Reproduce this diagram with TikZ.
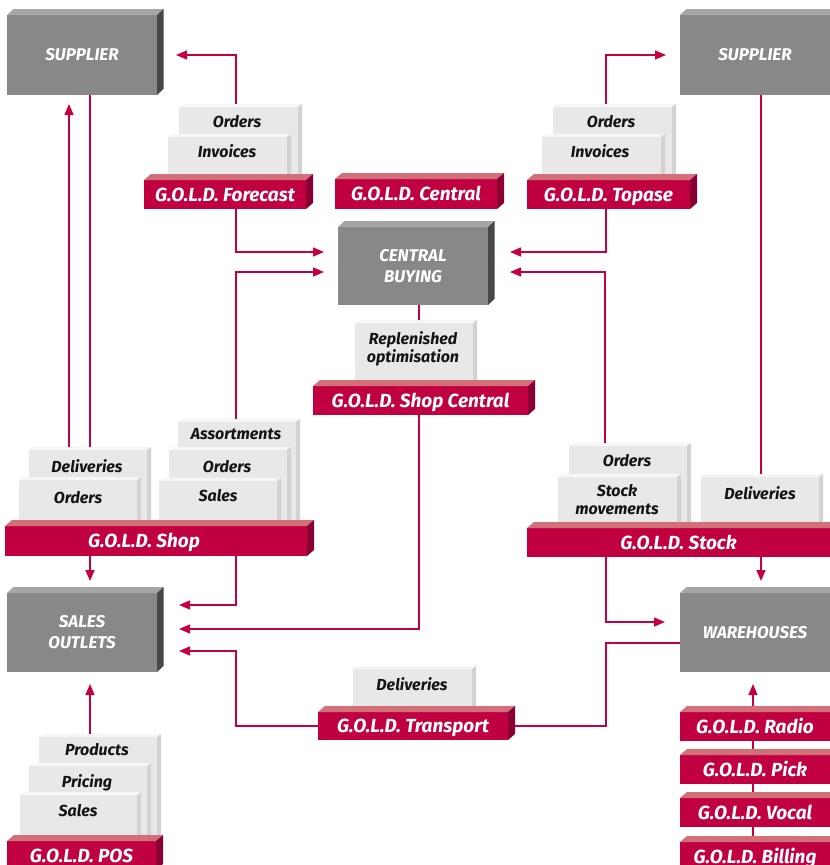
\documentclass[tikz,border=0pt]{standalone}
\usepackage{fontspec}
\setmainfont{Fira Sans}
\usetikzlibrary{arrows.meta}
\definecolor{crim}{RGB}{192,0,64}
\definecolor{crimtop}{RGB}{210,112,122}
\definecolor{crimside}{RGB}{139,0,52}
\definecolor{gfront}{RGB}{136,136,136}
\definecolor{gtop}{RGB}{166,166,166}
\definecolor{gside}{RGB}{72,72,72}
\definecolor{cfront}{RGB}{232,232,232}
\definecolor{cside}{RGB}{210,210,210}
\definecolor{ctop}{RGB}{246,246,246}
\definecolor{linec}{RGB}{196,0,66}
\pgfdeclarelayer{bg}
\pgfsetlayers{bg,main}
\newcommand\extrude[5]{%
  \fill[#4] (#1.north west) -- ++(#2,#3) -- ([shift={(#2,#3)}]#1.north east) -- (#1.north east) -- cycle;
  \fill[#5] (#1.north east) -- ++(#2,#3) -- ([shift={(#2,#3)}]#1.south east) -- (#1.south east) -- cycle;}
\begin{document}
\begin{tikzpicture}[x=1pt,y=-1pt,
  every node/.style={outer sep=0pt, inner sep=0pt},
  gbox/.style={fill=gfront, minimum width=150pt, minimum height=80pt, text=white, align=center,
    font=\fontsize{17}{21}\selectfont\bfseries\itshape},
  bar/.style={fill=crim, minimum height=29pt, text=white, text height=17.1pt, text depth=4pt,
    font=\fontsize{19}{22}\selectfont\bfseries\itshape},
  card/.style={fill=cfront, anchor=north west},
  ctext/.style={text=black!92, text height=15.2pt, text depth=4pt,
    font=\fontsize{16}{18.5}\selectfont\bfseries\itshape},
  ctext2/.style={text=black!92, align=center, font=\fontsize{16}{18.5}\selectfont\bfseries\itshape},
  conn/.style={draw=linec, line width=1.4pt},
  arr/.style={conn, -{Triangle[length=11pt,width=9pt]}}]
\useasboundingbox (0,0) rectangle (830,865);

% grey boxes
\node[gbox] (supL) at (82,55) {SUPPLIER};
\extrude{supL}{6.5}{-6}{gtop}{gside}
\node[gbox] (supR) at (755,55) {SUPPLIER};
\extrude{supR}{6.5}{-6}{gtop}{gside}
\node[gbox, minimum height=78pt] (cb) at (413,266) {CENTRAL\\BUYING};
\extrude{cb}{6.5}{-6}{gtop}{gside}
\node[gbox, minimum height=79pt] (so) at (82,632.5) {SALES\\OUTLETS};
\extrude{so}{6.5}{-6}{gtop}{gside}
\node[gbox, minimum height=79pt] (wh) at (755,632.5) {WAREHOUSES};
\extrude{wh}{6.5}{-6}{gtop}{gside}

% cards
\node[card, minimum width=119pt, minimum height=73pt] (fOrd) at (179,107) {};
\extrude{fOrd}{4}{-3}{ctop}{cside}
\node[card, minimum width=119pt, minimum height=43pt] (fInv) at (168,137) {};
\extrude{fInv}{4}{-3}{ctop}{cside}
\node[ctext] (fOrdT) at (237,122) {Orders};
\node[ctext] (fInvT) at (227,152) {Invoices};

\node[card, minimum width=119pt, minimum height=73pt] (tOrd) at (553,107) {};
\extrude{tOrd}{4}{-3}{ctop}{cside}
\node[card, minimum width=119pt, minimum height=43pt] (tInv) at (542,137) {};
\extrude{tInv}{4}{-3}{ctop}{cside}
\node[ctext] (tOrdT) at (611,122) {Orders};
\node[ctext] (tInvT) at (600,152) {Invoices};

\node[card, minimum width=118pt, minimum height=63pt] (rep) at (355,323) {};
\extrude{rep}{4}{-3}{ctop}{cside}
\node[ctext2] (repT) at (413,349) {Replenished\\optimisation};

\node[card, minimum width=118pt, minimum height=76pt] (sDel) at (29,450) {};
\extrude{sDel}{4}{-3}{ctop}{cside}
\node[card, minimum width=118pt, minimum height=46pt] (sOrd) at (19,480) {};
\extrude{sOrd}{4}{-3}{ctop}{cside}
\node[ctext] (sDelT) at (87,467) {Deliveries};
\node[ctext] (sOrdT) at (78,498) {Orders};

\node[card, minimum width=118pt, minimum height=104pt] (sAss) at (178,422) {};
\extrude{sAss}{4}{-3}{ctop}{cside}
\node[card, minimum width=118pt, minimum height=76pt] (sOrd2) at (169,450) {};
\extrude{sOrd2}{4}{-3}{ctop}{cside}
\node[card, minimum width=118pt, minimum height=45pt] (sSal) at (159,481) {};
\extrude{sSal}{4}{-3}{ctop}{cside}
\node[ctext] (sAssT) at (236,434) {Assortments};
\node[ctext] (sOrd2T) at (227,467) {Orders};
\node[ctext] (sSalT) at (218,496) {Sales};

\node[card, minimum width=118pt, minimum height=82pt] (kOrd) at (569,446) {};
\extrude{kOrd}{4}{-3}{ctop}{cside}
\node[card, minimum width=119pt, minimum height=51pt] (kMov) at (558,477) {};
\extrude{kMov}{4}{-3}{ctop}{cside}
\node[card, minimum width=118pt, minimum height=51pt] (kDel) at (701,477) {};
\extrude{kDel}{4}{-3}{ctop}{cside}
\node[ctext] (kOrdT) at (627,461) {Orders};
\node[ctext2] (kMovT) at (617,499.5) {Stock\\movements};
\node[ctext] (kDelT) at (760,494) {Deliveries};

\node[card, minimum width=119pt, minimum height=43pt] (trDel) at (353,669) {};
\extrude{trDel}{4}{-3}{ctop}{cside}
\node[ctext] (trDelT) at (412,685) {Deliveries};

\node[card, minimum width=118pt, minimum height=104pt] (pProd) at (39,737) {};
\extrude{pProd}{4}{-3}{ctop}{cside}
\node[card, minimum width=118pt, minimum height=75pt] (pPric) at (29,766) {};
\extrude{pPric}{4}{-3}{ctop}{cside}
\node[card, minimum width=117pt, minimum height=46pt] (pSal) at (20,795) {};
\extrude{pSal}{4}{-3}{ctop}{cside}
\node[ctext] (pProdT) at (97,750) {Products};
\node[ctext] (pPricT) at (87,782) {Pricing};
\node[ctext] (pSalT) at (78,811) {Sales};

% crimson bars
\node[bar, minimum width=162pt] (fc) at (225,194.5) {G.O.L.D. Forecast};
\extrude{fc}{7}{-6}{crimtop}{crimside}
\node[bar, minimum width=162pt, minimum height=30pt] (gc) at (416,194) {G.O.L.D. Central};
\extrude{gc}{7}{-6}{crimtop}{crimside}
\node[bar, minimum width=163pt] (tc) at (608.5,194.5) {G.O.L.D. Topase};
\extrude{tc}{7}{-6}{crimtop}{crimside}
\node[bar, minimum width=215pt] (scn) at (420.5,400.5) {G.O.L.D. Shop Central};
\extrude{scn}{7}{-6}{crimtop}{crimside}
\node[bar, minimum width=302pt, minimum height=30pt] (sh) at (156,541) {G.O.L.D. Shop\hspace*{24pt}};
\extrude{sh}{7}{-6}{crimtop}{crimside}
\node[bar, minimum width=303pt] (st) at (678.5,542.5) {G.O.L.D. Stock};
\extrude{st}{7}{-6}{crimtop}{crimside}
\node[bar, minimum width=190pt, minimum height=28pt] (tr) at (413,726) {G.O.L.D. Transport};
\extrude{tr}{7}{-6}{crimtop}{crimside}
\node[bar, minimum width=149pt] (pos) at (81.5,855.5) {G.O.L.D. POS};
\extrude{pos}{7}{-6}{crimtop}{crimside}
\node[bar, minimum width=150pt] (rad) at (755,726.5) {G.O.L.D. Radio};
\extrude{rad}{7}{-6}{crimtop}{crimside}
\node[bar, minimum width=150pt] (pk) at (755,769.5) {G.O.L.D. Pick};
\extrude{pk}{7}{-6}{crimtop}{crimside}
\node[bar, minimum width=150pt] (vc) at (755,812.5) {G.O.L.D. Vocal};
\extrude{vc}{7}{-6}{crimtop}{crimside}
\node[bar, minimum width=150pt] (bl) at (755,856.5) {G.O.L.D. Billing};
\extrude{bl}{7}{-6}{crimtop}{crimside}

% connectors
\begin{pgfonlayer}{bg}
\draw[arr] ([shift={(-2.5,0)}]fOrd.north) |- ([shift={(19,0)}]supL.east);
\draw[arr] ([shift={(11,0)}]fc.south) |- ([shift={(-14,-14)}]cb.west);
\draw[arr] ([shift={(-1,0)}]sAss.north) |- ([shift={(-14,6)}]cb.west);
\draw[arr] ([shift={(-6.5,0)}]tOrd.north) |- ([shift={(-14,0)}]supR.west);
\draw[arr] ([shift={(-2.5,0)}]tc.south) |- ([shift={(22,-14)}]cb.east);
\draw[arr] ([shift={(-23,0)}]kOrd.north) |- ([shift={(22,6)}]cb.east);
\draw[conn] ([shift={(6,0)}]supR.south) -- ([shift={(1,0)}]kDel.north);
\draw[arr] ([shift={(82.5,0)}]st.south) -- ([shift={(6,-12)}]wh.north);
\draw[arr] ([shift={(-72.5,0)}]st.south) |- ([shift={(-15,-10.5)}]wh.west);
\draw[conn] ([shift={(0,10.5)}]wh.west) -| ([shift={(98,0)}]tr.east) -- (tr.east);
\draw[arr] (tr.west) -| ([shift={(79,18.5)}]so.east) -- ([shift={(22,18.5)}]so.east);
\draw[arr] ([shift={(-1.5,0)}]scn.south) |- ([shift={(22,-3.5)}]so.east);
\draw[arr] ([shift={(80,0)}]sh.south) |- ([shift={(22,-27.5)}]so.east);
\draw[arr] ([shift={(-66,0)}]sh.south) -- ([shift={(8,-12)}]so.north);
\draw[conn] ([shift={(8,0)}]supL.south) -- ([shift={(2,0)}]sDel.north);
\draw[arr] ([shift={(-19,0)}]sDel.north) -- ([shift={(-13,9)}]supL.south);
\draw[conn] ([shift={(6,0)}]cb.south) -- ([shift={(5,0)}]rep.north);
\draw[arr] ([shift={(-8,0)}]pProd.north) -- ([shift={(8,12)}]so.south);
\draw[arr] ([shift={(-2,0)}]rad.north) -- ([shift={(-2,12)}]wh.south);
\draw[conn] ([shift={(-2,0)}]rad.south) -- ([shift={(-2,0)}]pk.north);
\draw[conn] ([shift={(-2,0)}]pk.south) -- ([shift={(-2,0)}]vc.north);
\draw[conn] ([shift={(-2,0)}]vc.south) -- ([shift={(-2,0)}]bl.north);
\end{pgfonlayer}
\end{tikzpicture}
\end{document}
